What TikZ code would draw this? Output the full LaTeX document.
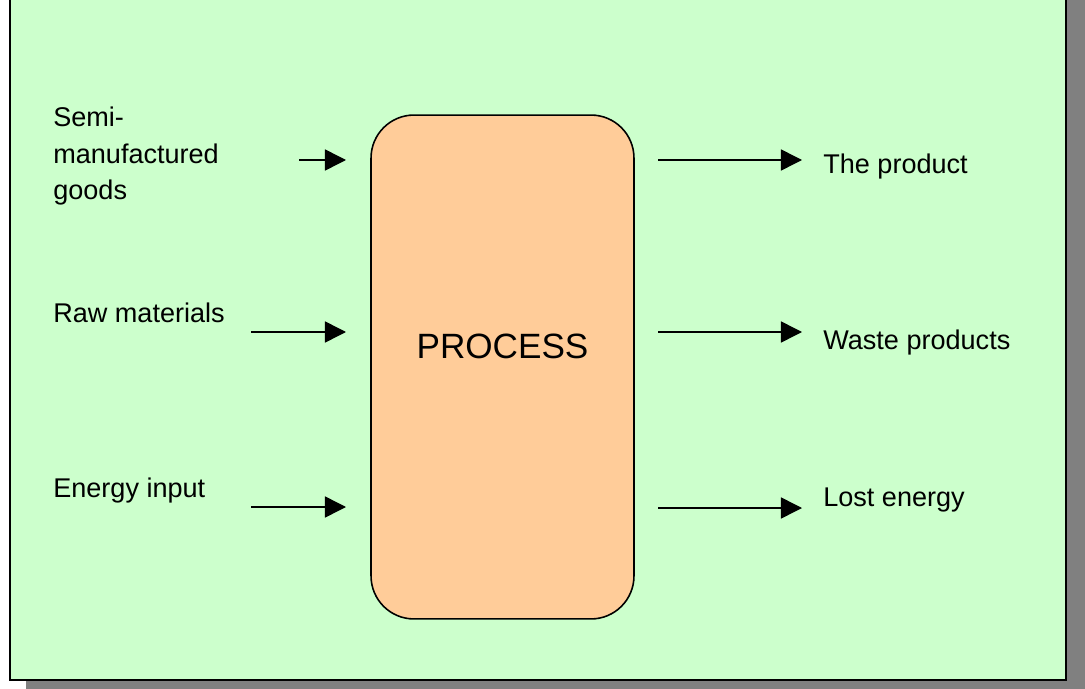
\documentclass[tikz,border=0pt]{standalone}
\usepackage{fontspec}
\setmainfont{Liberation Sans}
\usetikzlibrary{arrows.meta, positioning}
\definecolor{panelgreen}{HTML}{CCFFCC}
\definecolor{procpeach}{HTML}{FFCC99}
\definecolor{shadowgray}{HTML}{808080}

\begin{document}
\begin{tikzpicture}[
		x=0.02cm, y=-0.02cm,
		flowlabel/.style={anchor=base west, inner sep=0pt, align=left, font=\fontsize{15.4}{21}\selectfont},
		flowarr/.style={-{Triangle[length=12pt, width=12pt]}, line width=0.85pt},
		procbox/.style={draw, line width=0.9pt, fill=procpeach, rounded corners=0.86cm, minimum width=5.26cm, minimum height=10.08cm, inner sep=0pt}
	]
		\useasboundingbox (0,0) rectangle (1085,689);

		% Panel with its shadow
		\fill[shadowgray] (26,-20) rectangle (1085,689);
		\draw[line width=0.9pt, fill=panelgreen] (10,-20) rectangle (1066,680);

		% Process block
		\node[procbox] (proc) at (502.5,367) {};
		\node[anchor=base, inner sep=0pt, font=\fontsize{20}{24}\selectfont] (proclabel) at (502.5,358) {PROCESS};

		% Inputs
		\node[flowlabel] (semi) at (53,200) {Semi-\\manufactured\\goods};
		\node[flowlabel] (raw) at (53,322) {Raw materials};
		\node[flowlabel] (energy) at (53,497) {Energy input};

		\coordinate (semiS) at (299,160);   \coordinate (semiE) at (346,160);
		\coordinate (rawS) at (251,332);    \coordinate (rawE) at (346,332);
		\coordinate (energyS) at (251,507); \coordinate (energyE) at (346,507);
		\draw[flowarr] (semiS) -- (semiE);
		\draw[flowarr] (rawS) -- (rawE);
		\draw[flowarr] (energyS) -- (energyE);

		% Outputs
		\node[flowlabel] (product) at (823,174) {The product};
		\node[flowlabel] (waste) at (823,349) {Waste products};
		\node[flowlabel] (lost) at (823,506) {Lost energy};

		\coordinate (productS) at (658,160); \coordinate (productE) at (802,160);
		\coordinate (wasteS) at (658,332);   \coordinate (wasteE) at (802,332);
		\coordinate (lostS) at (658,508);    \coordinate (lostE) at (802,508);
		\draw[flowarr] (productS) -- (productE);
		\draw[flowarr] (wasteS) -- (wasteE);
		\draw[flowarr] (lostS) -- (lostE);
	\end{tikzpicture}
\end{document}
